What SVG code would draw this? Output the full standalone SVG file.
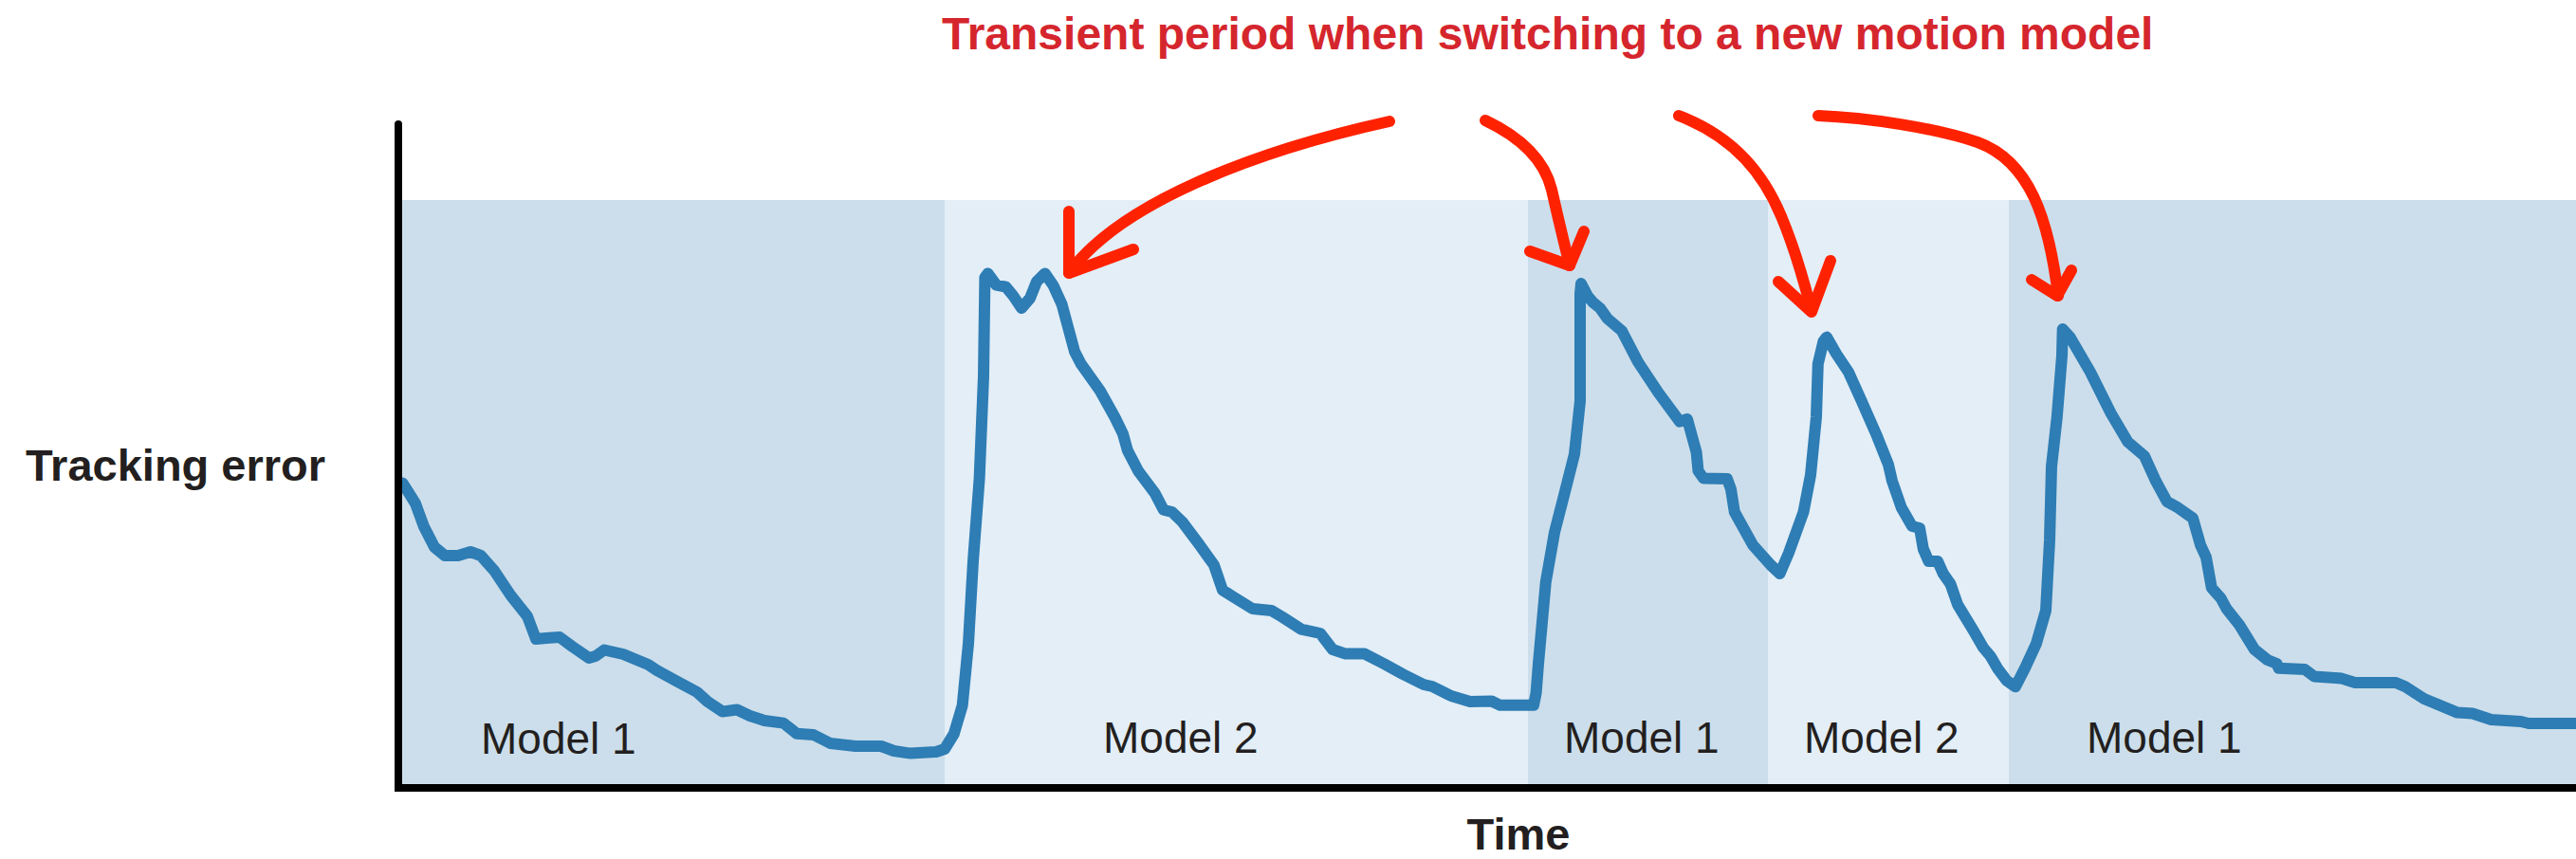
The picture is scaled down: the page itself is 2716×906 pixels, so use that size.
<svg xmlns="http://www.w3.org/2000/svg" width="2716" height="906" viewBox="0 0 2716 906">
<style>
.bd{fill:#ccdeeb}
.bl{fill:#e3eef7}
.lbl{font-family:"Liberation Sans",Arial,sans-serif;font-size:46px;fill:#231f20}
.ax{font-family:"Liberation Sans",Arial,sans-serif;font-size:47px;font-weight:bold;fill:#231f20}
.ttl{font-family:"Liberation Sans",Arial,sans-serif;font-size:48px;font-weight:bold;fill:#d5262d}
.axis{stroke:#000;stroke-width:8;fill:none;stroke-linecap:round}
.curve{stroke:#2e7db4;stroke-width:12;fill:none;stroke-linejoin:round;stroke-linecap:round}
.arr{stroke:#ff2200;stroke-width:12;fill:none;stroke-linejoin:round;stroke-linecap:round}
</style>
<rect width="2716" height="906" fill="#fff"/>
<g id="bands">
<rect id="band1" class="bd" x="424" y="211" width="572" height="617"/>
<rect id="band2" class="bl" x="996" y="211" width="615" height="617"/>
<rect id="band3" class="bd" x="1611" y="211" width="253" height="617"/>
<rect id="band4" class="bl" x="1864" y="211" width="254" height="617"/>
<rect id="band5" class="bd" x="2118" y="211" width="598" height="617"/>
</g>
<g id="labels">
<text class="lbl" x="507" y="795">Model 1</text>
<text class="lbl" x="1163" y="794">Model 2</text>
<text class="lbl" x="1649" y="794">Model 1</text>
<text class="lbl" x="1902" y="794">Model 2</text>
<text class="lbl" x="2200" y="794">Model 1</text>
</g>
<g id="curve">
<polyline class="curve" points="424.6,509.6 438,531 447,555.6 458,577 469,586 483,586 496,582 507,586 521,601.7 538.5,628 556,650 565,674 576,673 590,672 603,681.6 621,694 628,692 637,685.5 657,690 683.5,701 692.5,707 712.6,718 735,730 746,740 761.7,750.5 777,748.5 790.7,755 806,760 826,762.6 840,773.7 857.7,775 875.5,784 902,787 929,787 942.5,792 960,794.6 987,793 996,790 1005.8,774 1014.7,744 1021,679 1026,592 1032.6,505 1037,397 1038.4,292.8 1041.5,288.4 1050.4,300.6 1060.7,302.7 1068.3,312 1077,325 1086,314.5 1093,297 1101.8,288.4 1110.7,301.4 1119.6,321 1126,344.8 1133,370.8 1139.7,383.8 1159.8,412 1175.4,440 1184,457.6 1188.8,475 1200,496.6 1217.8,520.4 1226.8,537.8 1235.7,540 1246.9,550.8 1264.7,574.7 1280,596 1289,622.4 1302.7,631 1320.5,642 1340.6,644 1351.8,650.6 1371.9,663.6 1392,668 1405,685 1418.7,689.6 1438.8,689.6 1459,700 1479,711 1501,722 1510,724 1530,734 1550,740 1572.7,739.5 1581.7,743.8 1617,743.8 1619.6,731 1622,700 1629.8,613.7 1639,561.6 1649,522.6 1660,479 1666,423 1666,310 1667,299 1673.8,312 1679.5,318.8 1687,325 1694.8,336 1710,349 1727,381.7 1748.4,414 1771,444.6 1779,442 1788.6,477 1790.5,496.6 1796,504.4 1821,505 1825,516 1828.8,540 1848,574.7 1867,596 1876.6,605 1886,583 1901.5,540 1909,501 1915,440 1916.8,383.8 1922.5,360 1926,355.6 1936,373 1949,392.5 1962.7,422.9 1978,457.6 1991,490 1995,507.4 2004.8,535.6 2016,555 2024,557 2027.8,579 2033.5,592 2043,592 2048.8,605 2056.5,616 2064,637.6 2081,665.7 2091,683 2098.6,692 2106,704.8 2115.8,717.8 2125,724.3 2135,704.8 2147,678.7 2157,644 2161,570 2163,492 2168.8,440 2174,375 2174.7,347 2182.5,355.6 2204,392.5 2225.7,436 2243.4,466 2261,481 2273,507.4 2284.7,529 2296.5,535.6 2312,546.5 2320,574.7 2326,587.7 2331.8,620 2341.6,631 2347.5,642 2361,659 2377,685 2390.7,696 2400.6,700 2402.5,704.8 2430,706 2440,713.5 2469,715.6 2483,720 2526,720 2536,724.3 2555.8,737 2591,751.6 2606.8,752.5 2626.5,759 2658,761 2666,763 2716,763"/>
</g>
<g id="axes">
<polyline class="axis" points="420,131 420,831 2716,831"/>
<text class="ax" x="27" y="507">Tracking error</text>
<text class="ax" x="1601" y="896" text-anchor="middle">Time</text>
</g>
<g id="title">
<text class="ttl" x="993" y="52">Transient period when switching to a new motion model</text>
</g>
<g id="connectors">
<path class="arr" d="M1465,128 C1320,160 1180,215 1127,288"/>
<path class="arr" d="M1127,223 L1127,288 L1195,263"/>
<path class="arr" d="M1566,127 Q1625,155 1636,200 Q1645,240 1655,280"/>
<path class="arr" d="M1613,265 L1655,280 L1670,244"/>
<path class="arr" d="M1770,122 C1830,145 1860,185 1878,228 S1904,305 1910,328"/>
<path class="arr" d="M1875,297 L1910,329 L1930,275"/>
<path class="arr" d="M1917,122 C1970,124 2040,135 2085,150 C2140,170 2160,230 2170,312"/>
<path class="arr" d="M2142,295 L2169,312 L2184,285"/>
</g>
</svg>
